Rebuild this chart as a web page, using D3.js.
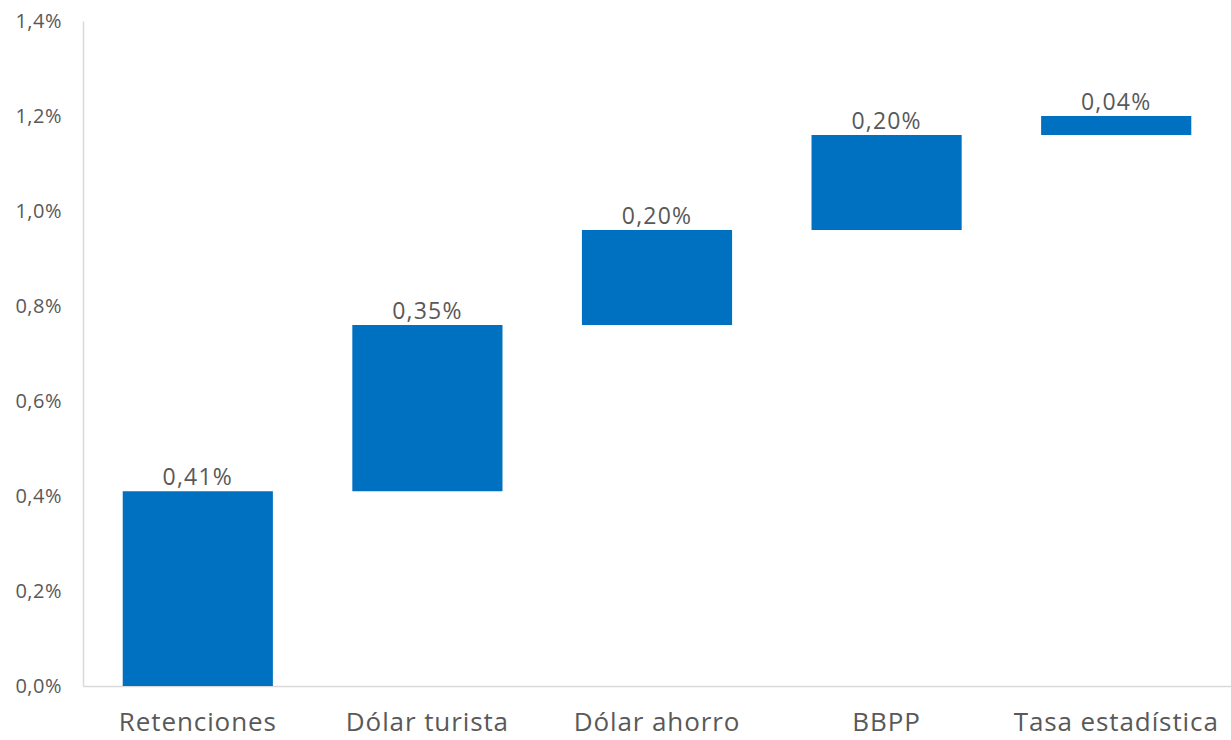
<!DOCTYPE html>
<html>
<head>
<meta charset="utf-8">
<script src="https://cdn.jsdelivr.net/npm/d3@7"></script>
<style>
  body { margin: 0; background: #fff; }
  text { font-family: "Open Sans", Lato, sans-serif; fill: #595959; }
</style>
</head>
<body>
<div id="graph"></div>
<script>
// waterfall data
const categories = ["Retenciones", "Dólar turista", "Dólar ahorro", "BBPP", "Tasa estadística"];
const values = [0.41, 0.35, 0.20, 0.20, 0.04];
const yTicks = [0, 0.2, 0.4, 0.6, 0.8, 1.0, 1.2, 1.4];

let margin = {top: 21, right: 0, bottom: 54, left: 83},
  width = 1231 - margin.left - margin.right,
  height = 740 - margin.top - margin.bottom;

let svg = d3.select("#graph")
  .append("svg")
  .attr("width", 1231)
  .attr("height", 740);

let g = svg.append("g")
  .attr("transform", "translate(" + margin.left + "," + margin.top + ")");

// cumulative start / end
let rows = [];
let acc = 0;
categories.forEach((c, i) => {
  rows.push({name: c, v: values[i], start: acc, end: acc + values[i]});
  acc += values[i];
});

let x = d3.scaleBand()
  .domain(categories)
  .range([0, width])
  .paddingInner(0.346)
  .paddingOuter(0.173);

let y = d3.scaleLinear()
  .domain([0, 1.4])
  .range([height, 0]);

const fmt = (d, k) => d3.format("." + k + "f")(d).replace(".", ",") + "%";

// y axis
let yAxis = g.append("g")
  .call(d3.axisLeft(y).tickValues(yTicks).tickSize(0).tickPadding(21).tickFormat(d => fmt(d, 1)));
yAxis.select(".domain").attr("stroke", "#d9d9d9").attr("stroke-width", 1.5);
yAxis.selectAll("text").style("font-size", "20px").style("letter-spacing", "0.5px").attr("fill", "#666");

// x axis
let xAxis = g.append("g")
  .attr("transform", "translate(0," + height + ")")
  .call(d3.axisBottom(x).tickSize(0).tickPadding(27));
xAxis.select(".domain").attr("stroke", "#d9d9d9").attr("stroke-width", 1.5);
xAxis.selectAll("text").style("font-size", "26px").style("letter-spacing", "0.9px").attr("fill", "#595959");

// bars
g.selectAll("rect.bar")
  .data(rows)
  .join("rect")
  .attr("class", "bar")
  .attr("x", d => x(d.name))
  .attr("width", x.bandwidth())
  .attr("y", d => y(d.end))
  .attr("height", d => y(d.start) - y(d.end))
  .attr("fill", "#0070c0");

// labels
g.selectAll("text.lbl")
  .data(rows)
  .join("text")
  .attr("class", "lbl")
  .attr("x", d => x(d.name) + x.bandwidth() / 2)
  .attr("y", d => y(d.end) - 6)
  .attr("text-anchor", "middle")
  .style("font-size", "23px")
  .style("letter-spacing", "1.2px")
  .attr("fill", "#666")
  .text(d => fmt(d.v, 2));
</script>
</body>
</html>
